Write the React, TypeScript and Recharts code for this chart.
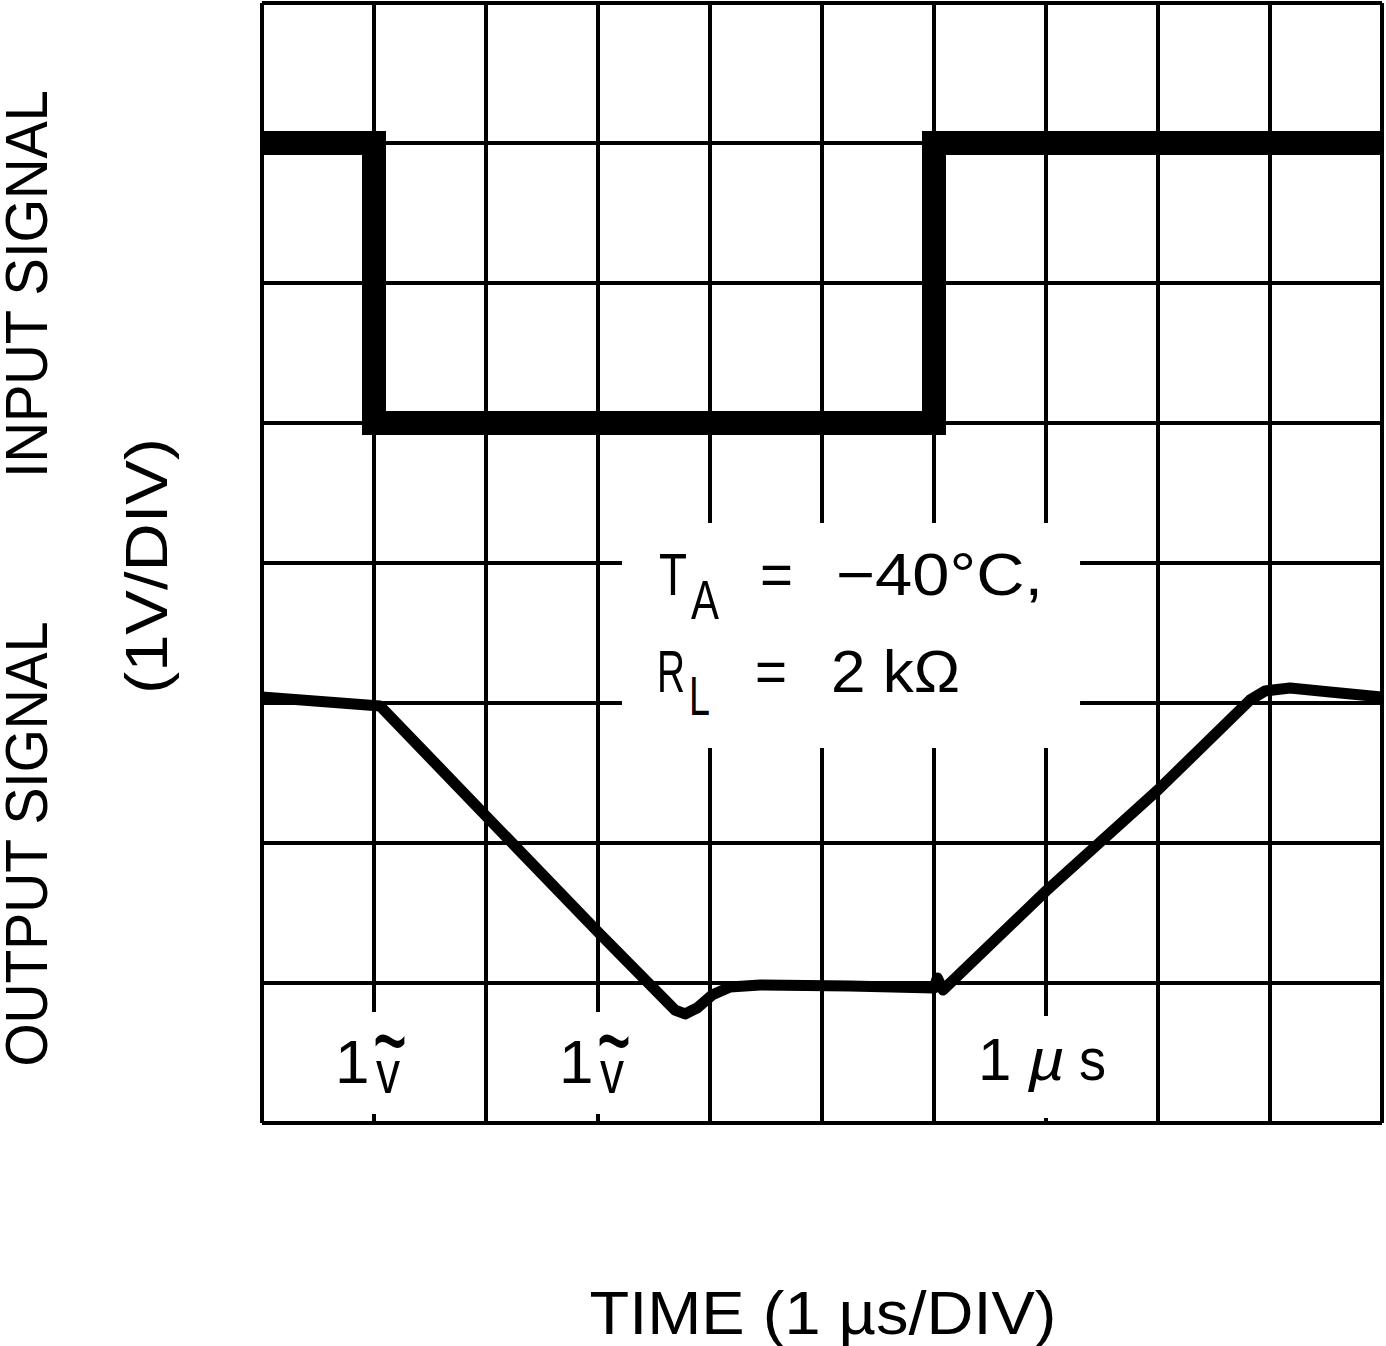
import React from 'react';
import { LineChart, Line, XAxis, YAxis, CartesianGrid, ReferenceArea, Label } from 'recharts';

// Time grid (µs) and vertical divisions (1 V/DIV)
const timeTicks = [0, 1, 2, 3, 4, 5, 6, 7, 8, 9, 10];
const divTicks = [0, 1, 2, 3, 4, 5, 6, 7, 8];

// Input signal (square step)
const inputTime = [0, 1, 1, 6, 6, 10];
const inputLevel = [7, 7, 5, 5, 7, 7];

// Output signal (slewed response)
const outputTime = [0, 1.054, 2.0, 3.0, 3.598, 3.688, 3.777, 3.884, 4.018, 4.179, 4.446, 5.25, 6.0, 6.03, 6.08, 7.0, 8.0, 8.821, 8.955, 9.179, 9.536, 10];
const outputLevel = [3.043, 2.979, 2.193, 1.364, 0.879, 0.807, 0.779, 0.821, 0.914, 0.971, 0.986, 0.979, 0.964, 1.036, 0.95, 1.657, 2.379, 3.021, 3.086, 3.107, 3.079, 3.043];

const inputData = inputTime.map((t, i) => ({ t, v: inputLevel[i] }));
const outputData = outputTime.map((t, i) => ({ t, v: outputLevel[i] }));

const X_MAX = timeTicks[timeTicks.length - 1];
const Y_MAX = divTicks[divTicks.length - 1];

const FONT = '"Liberation Sans", Arial, sans-serif';

const txt = (s: string, x: number, y: number, len: number | undefined, size = 60, extra: any = {}) => (
  <text
    x={x}
    y={y}
    fontFamily={FONT}
    fontSize={size}
    fill="#000"
    {...(len ? { textLength: len, lengthAdjust: 'spacingAndGlyphs' } : {})}
    {...extra}
  >
    {s}
  </text>
);

const renderYLabels = () => (
  <g>
    <text transform="translate(47,284) rotate(-90)" textAnchor="middle" fontFamily={FONT} fontSize={59} fill="#000" textLength={388} lengthAdjust="spacingAndGlyphs">INPUT SIGNAL</text>
    <text transform="translate(47,844) rotate(-90)" textAnchor="middle" fontFamily={FONT} fontSize={59} fill="#000" textLength={445} lengthAdjust="spacingAndGlyphs">OUTPUT SIGNAL</text>
    <text transform="translate(167,566) rotate(-90)" textAnchor="middle" fontFamily={FONT} fontSize={59} fill="#000" textLength={256} lengthAdjust="spacingAndGlyphs">(1V/DIV)</text>
  </g>
);

const renderXLabel = () => (
  <text x={823} y={1334} textAnchor="middle" fontFamily={FONT} fontSize={62} fill="#000" textLength={467} lengthAdjust="spacingAndGlyphs">TIME (1 µs/DIV)</text>
);

const renderBoxText = () => (
  <g>
    {txt('T', 659, 595, 28, 60)}
    {txt('A', 691, 619, 28, 56)}
    {txt('=', 760, 595, 33, 60)}
    {txt('−40°C,', 836, 595, 207, 60)}
    {txt('R', 657, 692, 28, 60)}
    {txt('L', 689, 715, 21, 56)}
    {txt('=', 755, 692, 32, 60)}
    {txt('2 kΩ', 831, 692, 129, 60)}
  </g>
);

const oneV = (x: number) => (
  <g>
    {txt('1', x - 8, 1083, undefined, 62)}
    {txt('~', x + 30, 1078, 34, 110)}
    {txt('v', x + 33, 1093, 24, 62)}
  </g>
);

const renderLabel1 = () => oneV(343);
const renderLabel2 = () => oneV(567);
const renderLabel3 = () => (
  <g>
    {txt('1', 978, 1080, undefined, 60)}
    <text x={1028} y={1080} fontFamily={FONT} fontSize={60} fontStyle="italic" fill="#000" textLength={37} lengthAdjust="spacingAndGlyphs">µ</text>
    {txt('s', 1079, 1080, 27, 60)}
  </g>
);

const vGen = ({ offset }: any) => timeTicks.map((t) => offset.left + (t / X_MAX) * offset.width);
const hGen = ({ offset }: any) => divTicks.map((d) => offset.top + (1 - d / Y_MAX) * offset.height);

export default function App() {
  return (
    <div style={{ position: 'absolute', left: 0, top: 0, background: '#fff' }}>
      <LineChart width={1386} height={1346} margin={{ top: 3, right: 4, left: 0, bottom: 0 }}>
        <CartesianGrid
          stroke="#000"
          strokeWidth={4}
          verticalCoordinatesGenerator={vGen}
          horizontalCoordinatesGenerator={hGen}
        />
        <XAxis
          type="number"
          dataKey="t"
          domain={[0, X_MAX]}
          ticks={timeTicks}
          tick={false}
          tickLine={false}
          axisLine={false}
          height={223}
          allowDataOverflow
        >
          <Label content={renderXLabel} />
        </XAxis>
        <YAxis
          type="number"
          dataKey="v"
          domain={[0, Y_MAX]}
          ticks={divTicks}
          tick={false}
          tickLine={false}
          axisLine={false}
          width={262}
          allowDataOverflow
        >
          <Label content={renderYLabels} />
        </YAxis>
        <ReferenceArea x1={3.214} x2={7.304} y1={2.679} y2={4.286} fill="#fff" fillOpacity={1} stroke="none" label={renderBoxText} />
        <ReferenceArea x1={0.6} x2={1.4} y1={0.064} y2={0.793} fill="#fff" fillOpacity={1} stroke="none" label={renderLabel1} />
        <ReferenceArea x1={2.6} x2={3.4} y1={0.064} y2={0.793} fill="#fff" fillOpacity={1} stroke="none" label={renderLabel2} />
        <ReferenceArea x1={6.5} x2={7.6} y1={0.036} y2={0.764} fill="#fff" fillOpacity={1} stroke="none" label={renderLabel3} />
        <Line
          data={inputData}
          dataKey="v"
          type="linear"
          stroke="#000"
          strokeWidth={24}
          strokeLinejoin="miter"
          strokeLinecap="butt"
          dot={false}
          activeDot={false}
          isAnimationActive={false}
        />
        <Line
          data={outputData}
          dataKey="v"
          type="linear"
          stroke="#000"
          strokeWidth={11}
          strokeLinejoin="round"
          strokeLinecap="butt"
          dot={false}
          activeDot={false}
          isAnimationActive={false}
        />
      </LineChart>
    </div>
  );
}
